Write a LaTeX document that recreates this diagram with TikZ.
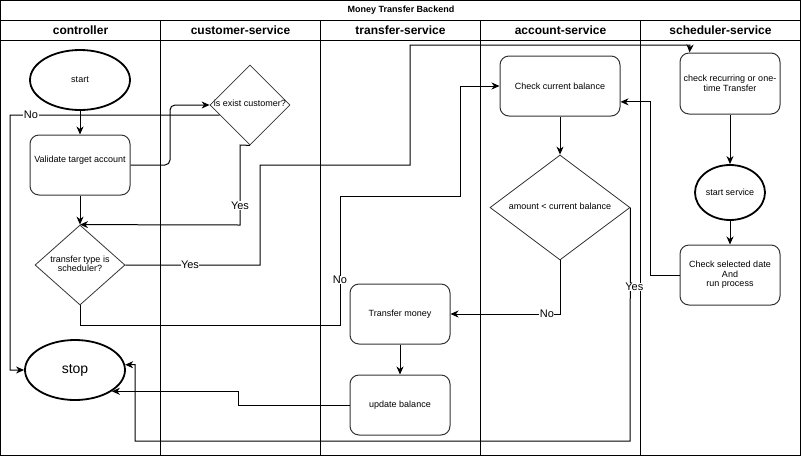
\documentclass[tikz,border=0pt]{standalone}
\usepackage{fontspec}
\setmainfont{Liberation Sans}
\usepackage{tikz}
\usetikzlibrary{shapes.geometric}
\usetikzlibrary{arrows.meta,calc}

\newcommand{\dtext}[1]{\makebox[0pt]{\begin{tabular}{@{}c@{}}#1\end{tabular}}}

\begin{document}
\begin{tikzpicture}[x=1pt,y=-1pt,font=\fontsize{9}{9.5}\selectfont,
		arr/.style={-{Stealth[length=8pt,width=7pt,inset=2.5pt]},line width=1pt},
		process/.style={draw=black!80,line width=1pt,rounded corners=9pt,minimum width=100pt,minimum height=60pt,align=center,inner sep=0pt},
		terminal/.style={draw,ellipse,line width=1.8pt,minimum width=100pt,minimum height=60pt,inner sep=0pt},
		decision/.style={draw=black!80,diamond,line width=0.8pt,inner sep=0pt},
		lbl/.style={fill=white,inner sep=0.5pt,font=\fontsize{11}{12}\selectfont},
		lane/.style={font=\bfseries\fontsize{12}{13}\selectfont}]
		\useasboundingbox (0,0) rectangle (801,456);
		\draw[line width=1pt] (0.5,0.5) rectangle (800.5,455);
		\draw[line width=1pt] (0.5,20) -- (800.5,20);
		\draw[line width=1pt] (0.5,40) -- (800.5,40);
		\foreach \x in {160,320,480,640}
			\draw[line width=1pt] (\x,20) -- (\x,455);
		\node[font=\bfseries\fontsize{9}{10}\selectfont] (title) at (401,10) {Money Transfer Backend};
		\foreach \lname/\x in {controller/80,customer-service/240,transfer-service/400,account-service/560,scheduler-service/720}
			\node[lane] (lane\x) at (\x.5,30) {\lname};
		
		\node[terminal] (start) at (80,80) {start};
		\node[process,text depth=12pt] (valid) at (80,165) {Validate target account};
		\node[decision,minimum width=80pt,minimum height=80pt] (exist) at (250,105) {\dtext{is exist customer?}};
		\node[decision,minimum width=90pt,minimum height=80pt] (ttype) at (80,265) {\dtext{transfer type is\\scheduler?}};
		\node[terminal,font=\fontsize{14}{15}\selectfont] (stop) at (75,370) {stop};
		\node[process] (transfer) at (400,314) {Transfer money};
		\node[process] (update) at (400,405) {update balance};
		\node[process,minimum width=120pt] (check) at (560,86) {Check current balance};
		\node[decision,minimum width=140pt,minimum height=105pt] (amount) at (560,207.5) {\dtext{amount < current balance}};
		\node[process,minimum height=61pt] (recur) at (730,83.5) {check recurring or one-\\time Transfer};
		\node[terminal,minimum width=70pt,minimum height=55pt] (sstart) at (730,192.5) {start service};
		\node[process] (sel) at (730,275) {Check selected date\\And\\run process};
		
		\draw[arr] (start) -- (valid);
		\draw[arr,rounded corners=5pt] (valid.east) -- (170,165) -- (170,105) -- (exist.west);
		\draw[arr] ($(exist.west)!0.25!(exist.south)$) -- node[lbl,pos=0.9]{No} (10,115) |- (stop.west);
		\draw[arr] (exist.south) -- (240,145) -- node[lbl,pos=0.76]{Yes} (240,225) -- (ttype.north);
		\draw[arr] (valid) -- (ttype);
		\draw[arr] (ttype.east) -- node[lbl,pos=0.48]{Yes} (260,265) -- (260,165) -- (410,165) -- (410,45) -- (690,45) -- ($(recur.north west)!0.1!(recur.north east)$);
		\draw[arr] (ttype.south) -- (80,325) -- (340,325) -- node[lbl,pos=0.35]{No} (340,196) -- (460,196) -- (460,86) -- (check.west);
		\draw[arr] (check) -- (amount);
		\draw[arr] (amount.south) |- node[lbl,pos=0.56]{No} (transfer.east);
		\draw[arr] (amount.east) -- node[lbl,pos=0.34,xshift=4pt]{Yes} (630,441) -- (135,441) |- (stop.6);
		\draw[arr] (transfer) -- (update);
		\draw[arr] (update.west) -- (238,405) |- (stop.330);
		\draw[arr] (recur) -- (sstart);
		\draw[arr] (sstart) -- (sel);
		\draw[arr] (sel.west) -- (650,275) |- ($(check.north east)!0.76!(check.south east)$);
	\end{tikzpicture}
\end{document}
